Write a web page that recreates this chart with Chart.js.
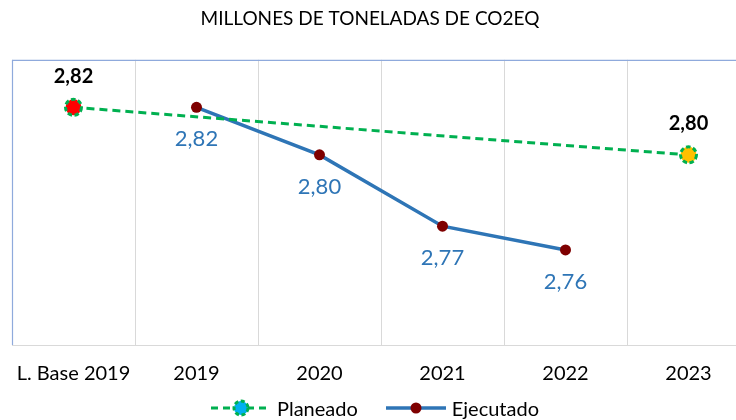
<!DOCTYPE html>
<html>
<head>
<meta charset="utf-8">
<script src="https://cdn.jsdelivr.net/npm/chart.js@4/dist/chart.umd.min.js"></script>
<style>
html,body{margin:0;padding:0;background:#fff;overflow:hidden;width:736px;height:420px;position:relative;}
#c{position:absolute;left:-10px;top:0;display:block;}
#legend{position:absolute;left:211px;top:396px;height:24px;display:flex;align-items:center;font-family:Lato,"Open Sans",sans-serif;font-size:20px;color:#000;white-space:nowrap;}
#legend .item{display:flex;align-items:center;}
#legend .item + .item{margin-left:28px;}
#legend canvas{display:block;margin-right:6px;}
</style>
</head>
<body>
<canvas id="c" width="760" height="420"></canvas>
<div id="legend"></div>
<script>
const categories = ['L. Base 2019', '2019', '2020', '2021', '2022', '2023'];
const planeado = [2.82, null, null, null, null, 2.80];
const ejecutado = [null, 2.82, 2.80, 2.77, 2.76, null];
const planeadoLabels = ['2,82', null, null, null, null, '2,80'];
const ejecutadoLabels = [null, '2,82', '2,80', '2,77', '2,76', null];
const seriesNames = ['Planeado', 'Ejecutado'];
const yMin = 2.72, yMax = 2.84;
const chartTitle = 'MILLONES DE TONELADAS DE CO2EQ';

const FONT = 'Lato, "Open Sans", sans-serif';
const GREEN = '#00B050', BLUE = '#2E75B6', MAROON = '#7F0000';

function legendIcon(kind) {
  const c = document.createElement('canvas');
  c.width = 60; c.height = 20;
  const x = c.getContext('2d');
  if (kind === 0) {
    x.strokeStyle = GREEN; x.lineWidth = 3; x.setLineDash([7, 5]);
    x.beginPath(); x.moveTo(0, 10); x.lineTo(60, 10); x.stroke();
    x.setLineDash([]);
    x.beginPath(); x.arc(30, 10, 7, 0, Math.PI * 2);
    x.fillStyle = '#00B0F0'; x.fill();
    x.setLineDash([4, 2.5]); x.lineWidth = 3; x.stroke();
  } else {
    x.strokeStyle = BLUE; x.lineWidth = 3.5;
    x.beginPath(); x.moveTo(0, 10); x.lineTo(60, 10); x.stroke();
    x.beginPath(); x.arc(30, 10, 5.5, 0, Math.PI * 2);
    x.fillStyle = MAROON; x.fill();
  }
  return c;
}
const legendEl = document.getElementById('legend');
seriesNames.forEach((name, i) => {
  const item = document.createElement('div');
  item.className = 'item';
  item.appendChild(legendIcon(i));
  const t = document.createElement('span');
  t.textContent = name;
  item.appendChild(t);
  legendEl.appendChild(item);
});

const framePlugin = {
  id: 'frame',
  beforeDatasetsDraw(chart) {
    const {ctx, chartArea: a} = chart;
    ctx.save();
    ctx.lineWidth = 1.2;
    ctx.strokeStyle = '#8FAADC';
    ctx.beginPath();
    ctx.moveTo(a.left + 0.5, a.bottom); ctx.lineTo(a.left + 0.5, a.top + 0.5);
    ctx.lineTo(a.right - 0.5, a.top + 0.5); ctx.lineTo(a.right - 0.5, a.bottom);
    ctx.stroke();
    ctx.strokeStyle = '#D9D9D9';
    ctx.beginPath(); ctx.moveTo(a.left, a.bottom + 0.5); ctx.lineTo(a.right, a.bottom + 0.5); ctx.stroke();
    ctx.restore();
  }
};

const labelPlugin = {
  id: 'vlabels',
  afterDatasetsDraw(chart) {
    const ctx = chart.ctx;
    ctx.save();
    ctx.textAlign = 'center';
    ctx.textBaseline = 'middle';
    chart.data.datasets.forEach((ds, di) => {
      const meta = chart.getDatasetMeta(di);
      const labels = di === 0 ? planeadoLabels : ejecutadoLabels;
      meta.data.forEach((pt, i) => {
        if (ds.data[i] == null) return;
        if (di === 0) {
          ctx.save();
          ctx.strokeStyle = GREEN; ctx.lineWidth = 3; ctx.setLineDash([4.5, 2.5]);
          ctx.beginPath(); ctx.arc(pt.x, pt.y, 8, 0, Math.PI * 2); ctx.stroke();
          ctx.restore();
          ctx.font = 'bold 20px ' + FONT; ctx.fillStyle = '#000';
          ctx.fillText(labels[i], pt.x, pt.y - 31);
        } else {
          ctx.font = '22px ' + FONT; ctx.fillStyle = BLUE;
          ctx.fillText(labels[i], pt.x, pt.y + 32);
        }
      });
    });
    ctx.restore();
  }
};

new Chart(document.getElementById('c'), {
  type: 'line',
  data: {
    labels: categories,
    datasets: [
      {
        label: seriesNames[0], data: planeado, spanGaps: true,
        borderColor: GREEN, borderWidth: 3, borderDash: [8, 5],
        pointRadius: 8, pointHoverRadius: 8, pointBorderWidth: 0,
        pointBorderColor: GREEN, pointBackgroundColor: ['#FF0000', '#FF0000', '#FF0000', '#FF0000', '#FF0000', '#FFC000'],
        tension: 0
      },
      {
        label: seriesNames[1], data: ejecutado,
        borderColor: BLUE, borderWidth: 3.5,
        pointRadius: 5.5, pointHoverRadius: 5.5, pointBorderWidth: 0,
        pointBackgroundColor: MAROON, pointBorderColor: MAROON,
        tension: 0
      }
    ]
  },
  options: {
    responsive: false,
    animation: false,
    devicePixelRatio: 1,
    layout: {autoPadding: false, padding: {left: 0, right: 0, top: 0, bottom: 17}},
    scales: {
      x: {
        offset: true,
        grid: {offset: true, color: '#D9D9D9', drawTicks: false},
        border: {display: false},
        ticks: {color: '#000', font: {family: FONT, size: 20}, padding: 17, maxRotation: 0, autoSkip: false}
      },
      y: {
        display: true, min: yMin, max: yMax,
        ticks: {display: false}, grid: {display: false, drawTicks: false}, border: {display: false},
        afterFit(s) { s.width = 22; }
      }
    },
    plugins: {
      title: {display: true, text: chartTitle, color: '#000', font: {family: FONT, size: 19, weight: 'normal'}, padding: {top: 7, bottom: 30}},
      legend: {display: false},
      tooltip: {enabled: false}
    }
  },
  plugins: [framePlugin, labelPlugin]
});
</script>
</body>
</html>
